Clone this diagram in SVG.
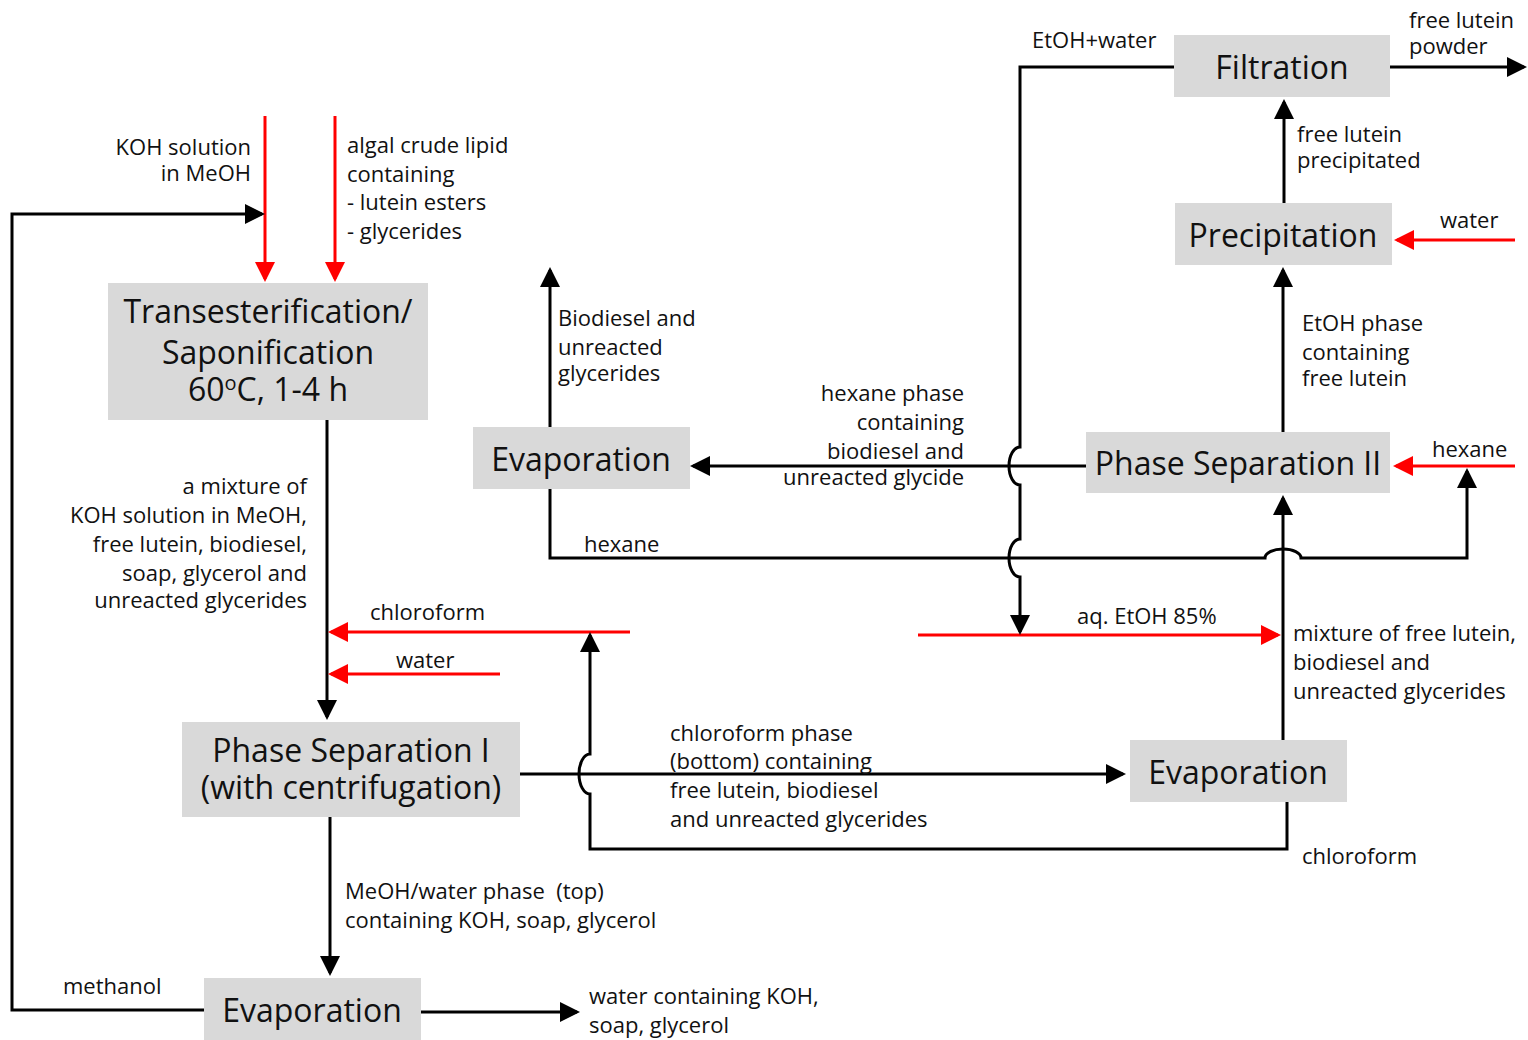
<svg xmlns="http://www.w3.org/2000/svg" width="1528" height="1040" viewBox="0 0 1528 1040">
<defs>
<marker id="ab" markerUnits="userSpaceOnUse" markerWidth="20" markerHeight="20" refX="17" refY="10" orient="auto"><path d="M0,0 L20,10 L0,20 z" fill="#000"/></marker>
<marker id="ar" markerUnits="userSpaceOnUse" markerWidth="20" markerHeight="20" refX="17" refY="10" orient="auto"><path d="M0,0 L20,10 L0,20 z" fill="#ff0000"/></marker>
<style>
.box{fill:#d9d9d9}
.nt{font-family:"Open Sans","DejaVu Sans",sans-serif;font-size:32px;fill:#111;text-anchor:middle}
.t{font-family:"Open Sans","DejaVu Sans",sans-serif;font-size:22px;fill:#111}
.r{text-anchor:end}
.k{fill:none;stroke:#000;stroke-width:3}
.red{fill:none;stroke:#ff0000;stroke-width:3}
</style>
</defs>
<rect width="1528" height="1040" fill="#fff"/>

<g id="connectors">
<path class="red" d="M265,116 V279" marker-end="url(#ar)"/>
<path class="red" d="M335,116 V279" marker-end="url(#ar)"/>
<path class="k" d="M204,1010 H12 V214 H262" marker-end="url(#ab)"/>
<path class="k" d="M327,420 V717" marker-end="url(#ab)"/>
<path class="red" d="M630,632 H331" marker-end="url(#ar)"/>
<path class="red" d="M500,674 H331" marker-end="url(#ar)"/>
<path class="k" d="M330,817 V973" marker-end="url(#ab)"/>
<path class="k" d="M421,1012 H577" marker-end="url(#ab)"/>
<path class="k" d="M520,774 H1123" marker-end="url(#ab)"/>
<path class="k" d="M1287,802 V849 H590 V794 A11,20 0 0 1 590,754 V635" marker-end="url(#ab)"/>
<path class="k" d="M1283,740 V498" marker-end="url(#ab)"/>
<path class="red" d="M918,635 H1278" marker-end="url(#ar)"/>
<path class="k" d="M550,489 V558 H1265 A18,9 0 0 1 1301,558 H1467 V471" marker-end="url(#ab)"/>
<path class="red" d="M1515,466 H1396" marker-end="url(#ar)"/>
<path class="k" d="M1086,466 H693" marker-end="url(#ab)"/>
<path class="k" d="M1174,67 H1020 V447 A11,19 0 0 0 1020,485 V539 A11,19 0 0 0 1020,577 V632" marker-end="url(#ab)"/>
<path class="k" d="M550,427 V270" marker-end="url(#ab)"/>
<path class="k" d="M1283,432 V270" marker-end="url(#ab)"/>
<path class="red" d="M1515,240 H1397" marker-end="url(#ar)"/>
<path class="k" d="M1284,203 V102" marker-end="url(#ab)"/>
<path class="k" d="M1390,67 H1524" marker-end="url(#ab)"/>
</g>

<g id="n_trans">
<rect class="box" x="108" y="283" width="320" height="137"/>
<text class="nt" x="268" y="323">Transesterification/</text>
<text class="nt" x="268" y="364">Saponification</text>
<text class="nt" x="268" y="401">60<tspan dy="-11" font-size="20">o</tspan><tspan dy="11">C, 1-4 h</tspan></text>
</g>
<g id="n_ps1">
<rect class="box" x="182" y="722" width="338" height="95"/>
<text class="nt" x="351" y="762">Phase Separation I</text>
<text class="nt" x="351" y="799">(with centrifugation)</text>
</g>
<g id="n_evap1">
<rect class="box" x="204" y="978" width="217" height="62"/>
<text class="nt" x="312" y="1022">Evaporation</text>
</g>
<g id="n_evap2">
<rect class="box" x="473" y="427" width="217" height="62"/>
<text class="nt" x="581" y="471">Evaporation</text>
</g>
<g id="n_ps2">
<rect class="box" x="1086" y="432" width="304" height="61"/>
<text class="nt" x="1238" y="475">Phase Separation II</text>
</g>
<g id="n_evap3">
<rect class="box" x="1130" y="740" width="217" height="62"/>
<text class="nt" x="1238" y="784">Evaporation</text>
</g>
<g id="n_precip">
<rect class="box" x="1175" y="203" width="217" height="62"/>
<text class="nt" x="1283" y="247">Precipitation</text>
</g>
<g id="n_filt">
<rect class="box" x="1174" y="35" width="216" height="62"/>
<text class="nt" x="1282" y="79">Filtration</text>
</g>

<g id="labels">
<text class="t r" x="251" y="155">KOH solution</text>
<text class="t r" x="251" y="181">in MeOH</text>
<text class="t" x="347" y="153">algal crude lipid</text>
<text class="t" x="347" y="182">containing</text>
<text class="t" x="347" y="210">- lutein esters</text>
<text class="t" x="347" y="239">- glycerides</text>
<text class="t r" x="307" y="494">a mixture of</text>
<text class="t r" x="307" y="523">KOH solution in MeOH,</text>
<text class="t r" x="307" y="552">free lutein, biodiesel,</text>
<text class="t r" x="307" y="581">soap, glycerol and</text>
<text class="t r" x="307" y="608">unreacted glycerides</text>
<text class="t" x="370" y="620">chloroform</text>
<text class="t" x="396" y="668">water</text>
<text class="t" x="558" y="326">Biodiesel and</text>
<text class="t" x="558" y="355">unreacted</text>
<text class="t" x="558" y="381">glycerides</text>
<text class="t r" x="964" y="401">hexane phase</text>
<text class="t r" x="964" y="430">containing</text>
<text class="t r" x="964" y="459">biodiesel and</text>
<text class="t r" x="964" y="485">unreacted glycide</text>
<text class="t" x="584" y="552">hexane</text>
<text class="t" x="1032" y="48">EtOH+water</text>
<text class="t" x="1409" y="28">free lutein</text>
<text class="t" x="1409" y="54">powder</text>
<text class="t" x="1297" y="142">free lutein</text>
<text class="t" x="1297" y="168">precipitated</text>
<text class="t" x="1440" y="228">water</text>
<text class="t" x="1302" y="331">EtOH phase</text>
<text class="t" x="1302" y="360">containing</text>
<text class="t" x="1302" y="386">free lutein</text>
<text class="t" x="1432" y="457">hexane</text>
<text class="t" x="1077" y="624">aq. EtOH 85%</text>
<text class="t" x="1293" y="641">mixture of free lutein,</text>
<text class="t" x="1293" y="670">biodiesel and</text>
<text class="t" x="1293" y="699">unreacted glycerides</text>
<text class="t" x="670" y="741">chloroform phase</text>
<text class="t" x="670" y="769">(bottom) containing</text>
<text class="t" x="670" y="798">free lutein, biodiesel</text>
<text class="t" x="670" y="827">and unreacted glycerides</text>
<text class="t" x="1302" y="864">chloroform</text>
<text class="t" x="345" y="899" style="white-space:pre">MeOH/water phase  (top)</text>
<text class="t" x="345" y="928">containing KOH, soap, glycerol</text>
<text class="t" x="63" y="994">methanol</text>
<text class="t" x="589" y="1004">water containing KOH,</text>
<text class="t" x="589" y="1033">soap, glycerol</text>
</g>
</svg>
